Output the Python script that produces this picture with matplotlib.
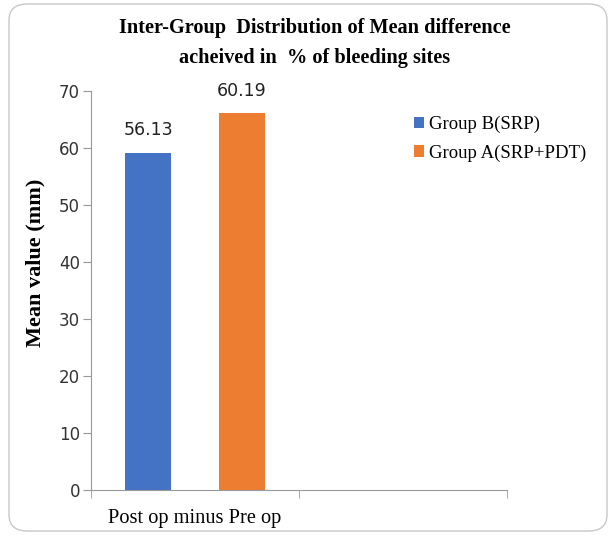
import numpy as np
import matplotlib.pyplot as plt
from matplotlib.patches import FancyBboxPatch

# data
categories = ["Post op minus Pre op", ""]
groups = ["Group B(SRP)", "Group A(SRP+PDT)"]
bar_heights = [59.2, 66.1]          # heights as drawn
bar_labels = ["56.13", "60.19"]     # labels as printed
colors = ["#4472C4", "#ED7D31"]
yticks = [0, 10, 20, 30, 40, 50, 60, 70]

fig = plt.figure(figsize=(6.15, 5.37), dpi=100)
ax = fig.add_axes([91/615, 1-490/537, (507-91)/615, (490-91)/537])

# rounded frame round the chart
frame = FancyBboxPatch((9/615, 6/537), 598/615, 527/537,
                       boxstyle="round,pad=0,rounding_size=0.03",
                       transform=fig.transFigure, fill=False,
                       edgecolor="#C8C8C8", linewidth=1.0)
fig.patches.append(frame)

offsets = [-0.225, 0.225]
width = 0.222
for i in range(len(groups)):
    ax.bar(0 + offsets[i], bar_heights[i], width, color=colors[i], label=groups[i])
    ax.text(0 + offsets[i], bar_heights[i] + 2.3, bar_labels[i], ha="center", va="bottom",
            fontsize=12.5, family="DejaVu Sans", color="#222222")

ax.set_xlim(-0.5, 1.5)
ax.set_ylim(0, 70)
ax.set_yticks(yticks)
ax.set_yticklabels([str(t) for t in yticks], fontsize=12, family="DejaVu Sans", color="#333333")
ax.set_xticks([0, 1])
ax.set_xticklabels(categories, fontsize=14.7, family="Liberation Serif")
ax.set_xticks([-0.5, 0.5, 1.5], minor=True)
ax.tick_params(axis="x", which="major", length=0, pad=14)
ax.tick_params(axis="x", which="minor", length=6, color="#999999", direction="out")
ax.tick_params(axis="y", length=6, color="#999999", direction="out", pad=2)

for s in ["top", "right"]:
    ax.spines[s].set_visible(False)
ax.spines["left"].set_color("#999999")
ax.spines["bottom"].set_color("#999999")

ax.set_ylabel("Mean value (mm)", fontsize=16, family="Liberation Serif",
              fontweight="bold")
ax.yaxis.set_label_coords(-0.109, 0.57)

fig.text(315/615, 1-43/537, "Inter-Group  Distribution of Mean difference\nacheived in  % of bleeding sites",
         ha="center", va="center", fontsize=14.6, family="Liberation Serif",
         fontweight="bold", linespacing=1.6)

ax.legend(loc="upper left", bbox_to_anchor=(306/416, 1-8/399), frameon=False,
          prop={"family": "Liberation Serif", "size": 13.5},
          handlelength=0.55, handleheight=0.55, handletextpad=0.25, labelspacing=0.6)

fig.savefig("out.png", dpi=100)
